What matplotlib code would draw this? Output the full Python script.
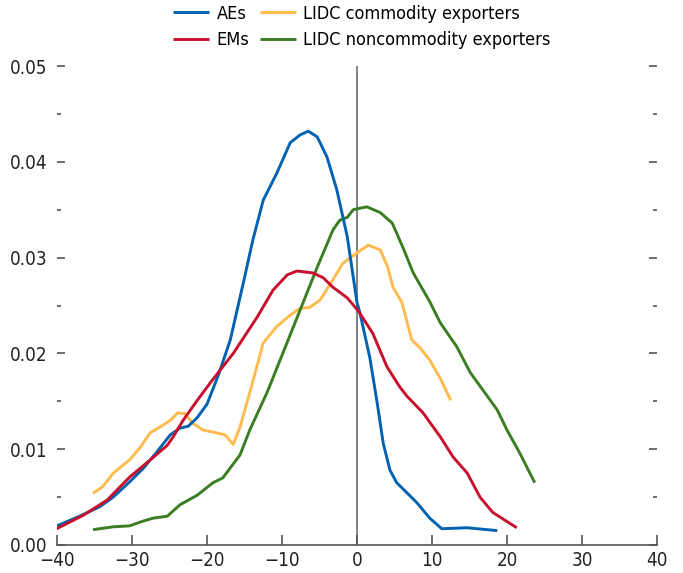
import matplotlib
matplotlib.use("Agg")
import matplotlib.pyplot as plt
from matplotlib.ticker import MultipleLocator, FuncFormatter

plt.rcParams['font.family'] = ['DejaVu Sans']
plt.rcParams['font.stretch'] = 'condensed'

ae_x = [-40.3, -37.0, -34.3, -32.5, -30.3, -28.5, -26.7, -24.9, -23.6, -22.5, -21.3, -20.0, -18.5,
        -16.9, -15.2, -13.9, -12.5, -10.7, -8.9, -7.6, -6.5, -5.3, -4.0, -2.7, -1.3, 0.0,
        0.4, 1.7, 2.7, 3.5, 4.4, 5.3, 8.0, 9.7, 11.3, 14.7, 18.7]
ae_y = [0.0019, 0.0030, 0.0040, 0.0050, 0.0066, 0.0080, 0.0097, 0.0115, 0.0122, 0.0124, 0.0133, 0.0147, 0.0177,
        0.0214, 0.0272, 0.0318, 0.0360, 0.0388, 0.0420, 0.0428, 0.0432, 0.0426, 0.0405, 0.0371, 0.0322, 0.0253,
        0.0242, 0.0196, 0.0148, 0.0106, 0.0078, 0.0065, 0.0044, 0.0028, 0.0017, 0.0018, 0.0015]

em_x = [-40.3, -36.5, -33.3, -30.3, -28.0, -25.3, -24.5, -23.2, -21.3, -19.3, -16.5, -13.3, -11.2, -9.3,
        -8.0, -5.9, -4.5, -3.2, -1.3, 0.2, 2.1, 4.0, 5.7, 6.7, 8.8, 11.1, 12.8, 14.7, 16.4, 18.1, 21.3]
em_y = [0.0016, 0.0031, 0.0047, 0.0071, 0.0086, 0.0104, 0.0113, 0.0130, 0.0151, 0.0172, 0.0200, 0.0238, 0.0266, 0.0282,
        0.0286, 0.0284, 0.0279, 0.0269, 0.0258, 0.0244, 0.0221, 0.0186, 0.0165, 0.0155, 0.0138, 0.0113, 0.0092, 0.0075, 0.0050, 0.0034, 0.0018]

lc_x = [-35.2, -33.9, -32.5, -30.3, -28.9, -27.6, -26.3, -24.9, -23.9, -22.9, -21.9, -20.5, -18.7, -17.6, -16.5,
        -15.6, -14.3, -12.5, -10.7, -8.9, -7.6, -6.3, -4.9, -3.2, -1.9, 0.0, 1.5, 3.1, 4.1, 4.8, 6.0, 7.3, 8.4,
        9.7, 11.1, 12.5]
lc_y = [0.0054, 0.0061, 0.0075, 0.0089, 0.0102, 0.0117, 0.0123, 0.0130, 0.0138, 0.0137, 0.0127, 0.0120, 0.0117, 0.0115, 0.0105,
        0.0123, 0.0159, 0.0211, 0.0228, 0.0240, 0.0247, 0.0248, 0.0256, 0.0277, 0.0294, 0.0305, 0.0313, 0.0308, 0.0290, 0.0269, 0.0253, 0.0214, 0.0206,
        0.0193, 0.0174, 0.0151]

ln_x = [-35.2, -32.5, -30.3, -28.9, -27.2, -25.3, -23.6, -21.3, -19.2, -17.9, -15.6, -14.3, -12.0, -9.9, -7.6,
        -5.3, -3.2, -2.3, -1.3, -0.5, 1.3, 3.1, 4.7, 6.1, 7.5, 9.7, 11.1, 13.3, 15.1, 18.7, 20.0, 21.7, 23.7]
ln_y = [0.0016, 0.0019, 0.0020, 0.0024, 0.0028, 0.0030, 0.0042, 0.0052, 0.0065, 0.0070, 0.0094, 0.0120, 0.0159, 0.0200, 0.0245,
        0.0290, 0.0329, 0.0339, 0.0342, 0.0350, 0.0353, 0.0347, 0.0336, 0.0311, 0.0284, 0.0254, 0.0232, 0.0207, 0.0180, 0.0141, 0.0120, 0.0096, 0.0065]

labels = ["AEs", "EMs", "LIDC commodity exporters", "LIDC noncommodity exporters"]
colors = ["#0062b1", "#c8102e", "#ffbb4d", "#3a7d23"]

fig = plt.figure(figsize=(6.83, 5.73), dpi=100)
ax = fig.add_axes([57/683, 1-545/573, 600/683, (545-66)/573])

ax.axvline(0, color="#777777", lw=1.3, zorder=1)
kw = dict(lw=2.1, solid_joinstyle="round", solid_capstyle="butt")
l_ae, = ax.plot(ae_x, ae_y, color=colors[0], label=labels[0], zorder=3, **kw)
l_em, = ax.plot(em_x, em_y, color=colors[1], label=labels[1], zorder=3, **kw)
l_lc, = ax.plot(lc_x, lc_y, color=colors[2], label=labels[2], zorder=2, **kw)
l_ln, = ax.plot(ln_x, ln_y, color=colors[3], label=labels[3], zorder=2, **kw)

ax.set_xlim(-40, 40)
ax.set_ylim(0, 0.05)
ax.xaxis.set_major_locator(MultipleLocator(10))
ax.yaxis.set_major_locator(MultipleLocator(0.01))
ax.yaxis.set_minor_locator(MultipleLocator(0.005))
ax.xaxis.set_major_formatter(FuncFormatter(lambda v, p: f"{int(round(v))}".replace("-", "\u2212")))
ax.yaxis.set_major_formatter(FuncFormatter(lambda v, p: f"{v:.2f}"))

for s in ["left", "right", "top"]:
    ax.spines[s].set_visible(False)
ax.spines["bottom"].set_color("#555555")
ax.spines["bottom"].set_linewidth(1.2)

ax.tick_params(axis="y", which="major", direction="in", length=6, width=1.2, color="#555555",
               left=True, right=True, labelsize=13.5, pad=7)
ax.tick_params(axis="y", which="minor", direction="in", length=3, width=1.2, color="#555555",
               left=True, right=True)
ax.tick_params(axis="x", which="major", direction="in", length=7, width=1.2, color="#555555",
               labelsize=13.5, pad=4)
for t in ax.get_yticklabels() + ax.get_xticklabels():
    t.set_color("#222222")

fig.legend(handles=[l_ae, l_em, l_lc, l_ln], labels=labels, ncol=2, loc="upper center",
           bbox_to_anchor=(0.53, 1.02), frameon=False, fontsize=13, handlelength=2.0,
           handletextpad=0.4, columnspacing=0.6, labelspacing=0.45)

fig.savefig("out.png", dpi=100)
